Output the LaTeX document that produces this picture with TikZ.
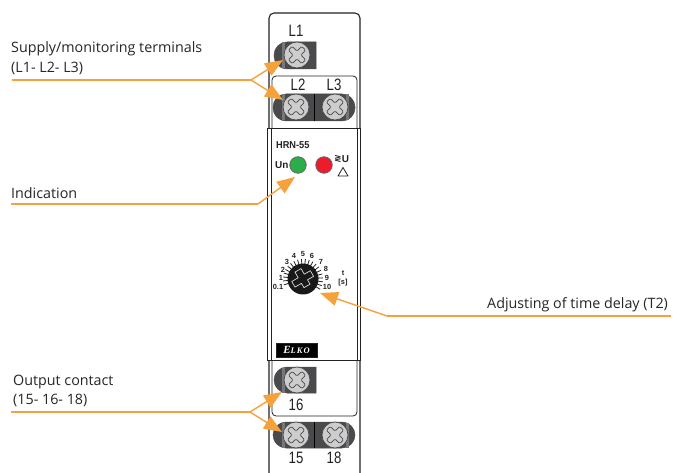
\documentclass[tikz,border=0pt]{standalone}
\usepackage{fontspec}
\setmainfont{Open Sans}
\newfontfamily\armfont{Liberation Sans}
\newfontfamily\symfont{DejaVu Sans}
\newfontfamily\logofont[LetterSpace=12]{Liberation Serif}
\usetikzlibrary{arrows.meta}
\definecolor{orangeline}{HTML}{F5A13C}
\definecolor{termdark}{HTML}{4A4A4C}
\definecolor{termmid}{HTML}{77777A}
\definecolor{screwgrey}{HTML}{CDCDCE}
\definecolor{devline}{HTML}{222224}
\definecolor{lampgreen}{HTML}{2BAE4A}
\definecolor{lampred}{HTML}{EC1C2C}
\tikzset{
  x=1pt,y=-1pt,
  callout/.style={font=\fontsize{14.3}{16}\selectfont,anchor=west,inner sep=0pt,text=black!85},
  leader/.style={draw=orangeline,line width=1.4pt},
  tipline/.style={draw=orangeline,line width=1.4pt,-{Triangle[length=18pt,width=14pt]}},
  termlabel/.style={font=\armfont\fontsize{16.5}{18}\selectfont,inner sep=0pt,text=devline,xscale=.8},
  dev/.style={draw=devline,line width=1.1pt},
  devthin/.style={draw=devline,line width=.8pt},
  scalelabel/.style={font=\armfont\bfseries\fontsize{7.4}{8}\selectfont,inner sep=0pt,text=devline},
  panellabel/.style={font=\armfont\bfseries\fontsize{10}{11}\selectfont,inner sep=0pt,text=devline},
  screw/.style={circle,draw=termdark,line width=.7pt,fill=screwgrey,minimum size=26pt,inner sep=0pt},
  lamp/.style={circle,draw=devline!70,line width=.8pt,minimum size=16.5pt,inner sep=0pt},
}
\newcommand{\screwat}[3]{%
  \node[screw] (#1) at (#2,#3) {};
  \begin{scope}[shift={(#2,#3)},rotate=45]
    \draw[draw=termdark,line width=.7pt,rounded corners=1.2pt]
      (-9.5,-2.7)--(-2.7,-2.7)--(-2.7,-9.5)--(2.7,-9.5)--(2.7,-2.7)--(9.5,-2.7)--(9.5,2.7)--(2.7,2.7)--(2.7,9.5)--(-2.7,9.5)--(-2.7,2.7)--(-9.5,2.7)--cycle;
  \end{scope}}
\newcommand{\singleterm}[2]{%
  \filldraw[fill=termdark,draw=termdark,line width=.5pt]
    (316,#1) [rounded corners=13pt] -- (274,#1) -- (274,#2) [sharp corners] -- (316,#2) -- cycle;
  \fill[termmid] (282,#1+.5) rectangle (285,#2-.5);}
\newcommand{\doubleterm}[2]{%
  \filldraw[fill=termdark,draw=termdark,line width=.5pt,rounded corners=13pt] (273,#1) rectangle (355,#2);
  \fill[termmid] (282,#1+.5) rectangle (285,#2-.5);
  \fill[termmid] (346,#1+.5) rectangle (349,#2-.5);
  \draw[black,line width=.6pt] (314,#1) -- (314,#2);}
\begin{document}
\begin{tikzpicture}
\useasboundingbox (0,0) rectangle (686,473);
\fill[white] (0,0) rectangle (686,473);
% body
\draw[dev,rounded corners=5pt] (269,473) -- (269,13) -- (360,13) -- (360,473);
% terminal compartments
\draw[devthin,rounded corners=4pt] (272,128) -- (272,76) -- (357,76) -- (357,128);
\draw[devthin,rounded corners=4pt] (272,360) -- (272,416) -- (357,416) -- (357,360);
% panel
\filldraw[draw=devline,line width=1pt,fill=white] (267.5,128.5) rectangle (360.5,360.5);
\draw[draw=devline,line width=1pt] (271.5,128.5) -- (271.5,360.5);
\draw[draw=devline,line width=1pt] (357.5,128.5) -- (357.5,360.5);
% terminals
\singleterm{42}{69}
\screwat{sLa}{297}{55}
\doubleterm{94}{121}
\screwat{sLb}{296}{107}
\screwat{sLc}{335}{107}
\singleterm{367}{393}
\screwat{sPa}{297}{380}
\doubleterm{422}{448}
\screwat{sPb}{296}{435}
\screwat{sPc}{335}{435}
\node[termlabel] (tLa) at (296,31) {L1};
\node[termlabel] (tLb) at (298,85) {L2};
\node[termlabel] (tLc) at (334,85) {L3};
\node[termlabel] (tPa) at (296,405) {16};
\node[termlabel] (tPb) at (296,458) {15};
\node[termlabel] (tPc) at (334,458) {18};
% panel labels
\node[panellabel,anchor=west,xscale=.92] (hrn) at (276,145) {HRN-55};
\node[panellabel,anchor=west] (un) at (275,165.5) {Un};
\node[lamp,fill=lampgreen] (green) at (298,165) {};
\node[lamp,fill=lampred] (red) at (324,165) {};
\node[inner sep=0pt,font=\symfont\bfseries\fontsize{9}{10}\selectfont,text=devline] (ge) at (338,159) {≷};
\node[panellabel] (uu) at (345.5,159.5) {U};
\draw[devline,line width=.8pt,line join=round] (343,167.5) -- (348,176) -- (338,176) -- cycle;
% dial
\foreach \a in {0,...,20}{
  \draw[devline,line width=.8pt] ({303+15*cos(197-11.4*\a)},{279-15*sin(197-11.4*\a)}) -- ({303+20*cos(197-11.4*\a)},{279-20*sin(197-11.4*\a)});
}
\node[circle,fill=black!90,minimum size=31pt,inner sep=0pt] (dial) at (303,279) {};
\begin{scope}[shift={(303,279)},rotate=30]
  \draw[white!85!black,line width=.7pt,line join=round]
   (-11,-3.5)--(-3.5,-3.5)--(-3.5,-10)--(3.5,-10)--(3.5,-3.5)--(10.5,-3.5)--(10.5,3)--(3.5,3)--(3.5,8)--(-3.5,8)--(-3.5,3)--(-11,3)--cycle;
\end{scope}
\node[scalelabel] (dA) at (278,287) {0.1};
\node[scalelabel] (dB) at (281,278) {1};
\node[scalelabel] (dC) at (283,270) {2};
\node[scalelabel] (dD) at (287,262) {3};
\node[scalelabel] (dE) at (294,256) {4};
\node[scalelabel] (dF) at (303,254) {5};
\node[scalelabel] (dG) at (312,256) {6};
\node[scalelabel] (dH) at (321,262) {7};
\node[scalelabel] (dI) at (326,269) {8};
\node[scalelabel] (dJ) at (327,278) {9};
\node[scalelabel] (dK) at (327,287) {10};
\node[scalelabel] (dT) at (343,273) {t};
\node[scalelabel] (dS) at (343,283) {[s]};
% logo
\node[fill=black,draw=devline,minimum width=41pt,minimum height=14pt,inner sep=0pt,text=white,font=\logofont\bfseries\itshape] (logo) at (296.5,350) {\fontsize{11}{12}\selectfont E\fontsize{8.5}{9}\selectfont LKO};
% callouts
\node[callout] (supA) at (11,49) {Supply/monitoring terminals};
\node[callout] (supB) at (11,68) {(L1- L2- L3)};
\node[callout] (ind) at (11,193) {Indication};
\node[callout] (adj) at (487,305) {Adjusting of time delay (T2)};
\node[callout] (outA) at (13,382) {Output contact};
\node[callout] (outB) at (13,400) {(15- 16- 18)};
\coordinate (supStart) at (12,80);
\coordinate (supKnee) at (251,80);
\coordinate (supTipA) at (283,60);
\coordinate (supTipB) at (283,100);
\coordinate (indStart) at (11,204);
\coordinate (indKnee) at (258,204);
\coordinate (indTip) at (295,177);
\coordinate (adjStart) at (671,316);
\coordinate (adjKnee) at (387,316);
\coordinate (adjTip) at (320,293);
\coordinate (outStart) at (11,412);
\coordinate (outKnee) at (250,412);
\coordinate (outTipA) at (282,392);
\coordinate (outTipB) at (282,432);
\draw[leader] (supStart) -- (supKnee);
\draw[tipline] (supKnee) -- (supTipA);
\draw[tipline] (supKnee) -- (supTipB);
\draw[leader] (indStart) -- (indKnee);
\draw[tipline] (indKnee) -- (indTip);
\draw[leader] (adjStart) -- (adjKnee);
\draw[tipline] (adjKnee) -- (adjTip);
\draw[leader] (outStart) -- (outKnee);
\draw[tipline] (outKnee) -- (outTipA);
\draw[tipline] (outKnee) -- (outTipB);
\end{tikzpicture}
\end{document}
